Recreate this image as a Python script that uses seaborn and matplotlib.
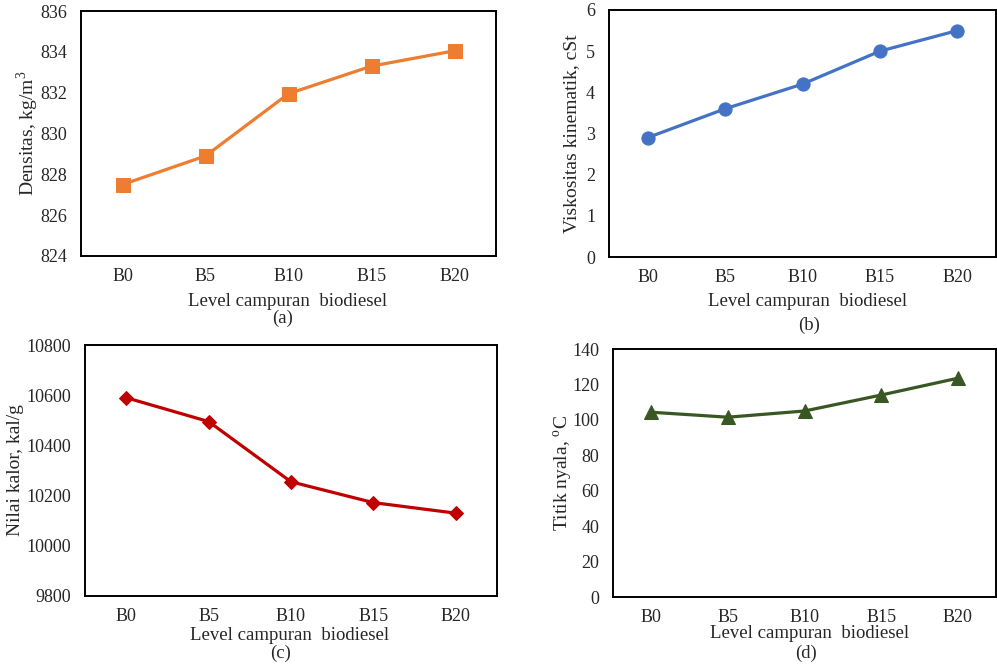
import numpy as np
import pandas as pd
import matplotlib
matplotlib.use("Agg")
import matplotlib.pyplot as plt
import seaborn as sns

sns.set_style("white")
plt.rcParams["font.family"] = ["Liberation Serif", "DejaVu Serif"]
plt.rcParams["mathtext.fontset"] = "custom"
plt.rcParams["mathtext.rm"] = "Liberation Serif"

# data
levels = ["B0", "B5", "B10", "B15", "B20"]
densitas = [827.5, 828.9, 831.95, 833.3, 834.05]
viskositas = [2.9, 3.6, 4.2, 5.0, 5.5]
nilai_kalor = [10590, 10495, 10255, 10172, 10130]
titik_nyala = [104.3, 101.5, 105.0, 114.0, 123.5]

W, H = 997, 665
text_col = "#262626"

# axes box in pixels (left, top, right, bottom), label positions in pixels
panels = [
    dict(y=densitas, color="#ED7D31", marker="s", ylabel="Densitas, kg/m$^3$",
         ylim=(824, 836), step=2, tag="(a)", box=(81, 11, 496, 256),
         ylab_x=28, xlab=(288, 301), tag_xy=(283, 318)),
    dict(y=viskositas, color="#4472C4", marker="o", ylabel="Viskositas kinematik, cSt",
         ylim=(0, 6), step=1, tag="(b)", box=(609, 10, 996, 257),
         ylab_x=572, xlab=(808, 302), tag_xy=(809, 325)),
    dict(y=nilai_kalor, color="#C00000", marker="D", ylabel="Nilai kalor, kal/g",
         ylim=(9800, 10800), step=200, tag="(c)", box=(85, 345, 497, 596),
         ylab_x=16, xlab=(290, 636), tag_xy=(281, 653)),
    dict(y=titik_nyala, color="#385723", marker="^", ylabel="Titik nyala, $^{\\mathrm{o}}$C",
         ylim=(0, 140), step=20, tag="(d)", box=(613, 349, 996, 597),
         ylab_x=563, xlab=(810, 633), tag_xy=(806, 653)),
]

fig = plt.figure(figsize=(W / 100, H / 100), dpi=100)

for p in panels:
    l, t, r, b = p["box"]
    ax = fig.add_axes([l / W, 1 - b / H, (r - l) / W, (b - t) / H])
    df = pd.DataFrame({"level": levels, "val": p["y"]})
    df["x"] = np.arange(len(levels))
    msize = 9.5 if p["marker"] != "D" else 7.5
    sns.lineplot(data=df, x="x", y="val", ax=ax, color=p["color"], marker=p["marker"],
                 markersize=msize, markeredgecolor=p["color"], linewidth=2.3)
    ax.set_xlim(-0.5, len(levels) - 0.5)
    ax.set_ylim(*p["ylim"])
    ax.set_yticks(np.arange(p["ylim"][0], p["ylim"][1] + p["step"] / 2, p["step"]))
    ax.set_xticks(np.arange(len(levels)))
    ax.set_xticklabels(levels)
    ax.set_xticks(np.arange(0.5, len(levels) - 1, 1), minor=True)
    ax.tick_params(axis="x", which="major", length=0, labelsize=13, pad=8.5,
                   labelcolor=text_col)
    ax.tick_params(axis="x", which="minor", length=5, width=1.3, direction="in", color="black")
    ax.tick_params(axis="y", length=3, width=1.2, direction="in", color="black",
                   labelsize=13, pad=10, labelcolor=text_col)
    for s in ax.spines.values():
        s.set_color("black")
        s.set_linewidth(1.4)
    ax.set_ylabel("")
    ax.set_xlabel("")
    fig.text(p["ylab_x"] / W, 1 - (t + b) / 2 / H, p["ylabel"], rotation=90,
             ha="center", va="center", fontsize=14, color=text_col)
    fig.text(p["xlab"][0] / W, 1 - p["xlab"][1] / H, "Level campuran  biodiesel",
             ha="center", va="center", fontsize=13.5, color=text_col)
    fig.text(p["tag_xy"][0] / W, 1 - p["tag_xy"][1] / H, p["tag"],
             ha="center", va="center", fontsize=13.5, color=text_col)

fig.savefig("out.png", dpi=100)
